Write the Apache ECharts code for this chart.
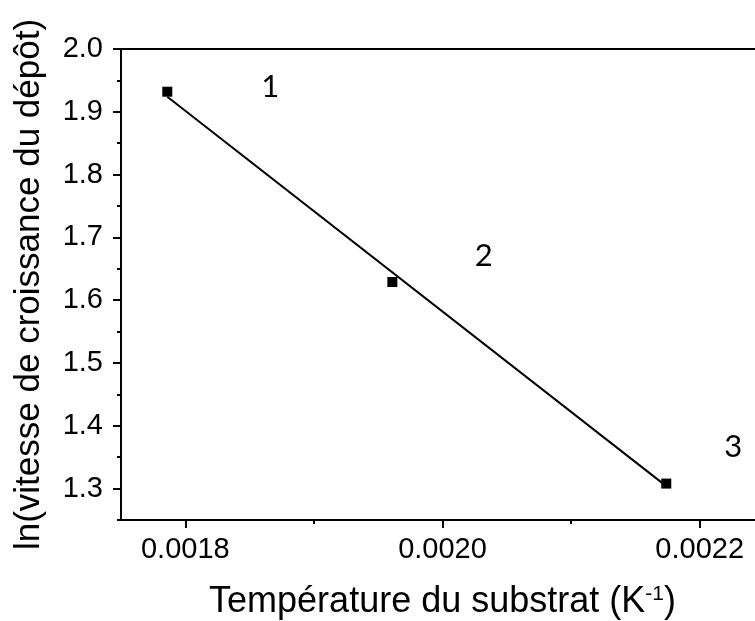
<!DOCTYPE html>
<html>
<head>
<meta charset="utf-8">
<script src="https://cdn.jsdelivr.net/npm/echarts@6/dist/echarts.min.js"></script>
<style>
html,body{margin:0;padding:0;background:#fff;}
#chartContainer{width:755px;height:621px;}
</style>
</head>
<body>
<div id="chartContainer"></div>
<script>
// points mesurés (1/T, ln v)
var tempInv = [0.001786, 0.001961, 0.002174];
var lnVitesse = [1.932, 1.629, 1.308];
// droite d'ajustement (extrémités)
var fitX = [0.001786, 0.002174];
var fitY = [1.924, 1.304];
// étiquettes des zones
var zoneX = [0.001866, 0.002032, 0.002226];
var zoneY = [1.940, 1.671, 1.367];
var zoneText = ['1', '2', '3'];
// graduations
var xTicks = [0.0018, 0.0020, 0.0022];
var xMinorTicks = [0.0019, 0.0021];
var yTicks = [1.3, 1.4, 1.5, 1.6, 1.7, 1.8, 1.9, 2.0];
var yMinorTicks = [1.25, 1.35, 1.45, 1.55, 1.65, 1.75, 1.85, 1.95];

var myChart, option;
var FONT = '"Liberation Sans", Arial, sans-serif';

function pairs(xs, ys){
	var out = [];
	for(var i = 0; i < xs.length; i++){
		out.push([xs[i], ys[i]]);
	}
	return out;
}

function buildOption(){
	var axisLine = {show:true, lineStyle:{color:'#000', width:2}};
	return {
		animation:false,
		backgroundColor:'#fff',
		grid:{left:121, top:49, bottom:101, right:-9, containLabel:false, outerBoundsMode:'none'},
		xAxis:[
			{
				type:'value', position:'bottom', min:0.00175, max:0.00225,
				axisLine:axisLine, splitLine:{show:false},
				axisTick:{show:true, inside:false, length:8, lineStyle:{color:'#000', width:2}, customValues:xTicks},
				axisLabel:{show:true, margin:15, color:'#000', fontSize:29, fontFamily:FONT, customValues:xTicks,
					formatter:function(v){ return v.toFixed(4); }},
				name:'Température du substrat (K{sup|-1})',
				nameLocation:'middle', nameGap:64,
				nameTextStyle:{color:'#000', fontSize:36, fontFamily:FONT,
					rich:{sup:{fontSize:21, fontFamily:FONT, color:'#000', verticalAlign:'top', padding:[0,0,16,0]}}}
			},
			{
				// graduations secondaires en bas
				type:'value', position:'bottom', min:0.00175, max:0.00225,
				axisLine:{show:false}, splitLine:{show:false}, axisLabel:{show:false},
				axisTick:{show:true, inside:false, length:4, lineStyle:{color:'#000', width:2}, customValues:xMinorTicks}
			},
			{
				// cadre du haut
				type:'value', position:'top', min:0.00175, max:0.00225,
				axisLine:axisLine, splitLine:{show:false}, axisLabel:{show:false}, axisTick:{show:false}
			}
		],
		yAxis:[
			{
				type:'value', position:'left', min:1.25, max:2.0,
				axisLine:axisLine, splitLine:{show:false},
				axisTick:{show:true, inside:false, length:8, lineStyle:{color:'#000', width:2}, customValues:yTicks},
				axisLabel:{show:true, margin:18, color:'#000', fontSize:29, fontFamily:FONT, customValues:yTicks,
					formatter:function(v){ return v.toFixed(1); }},
				name:'ln(vitesse de croissance du dépôt)',
				nameLocation:'middle', nameGap:74,
				nameTextStyle:{color:'#000', fontSize:35, fontFamily:FONT}
			},
			{
				type:'value', position:'left', min:1.25, max:2.0,
				axisLine:{show:false}, splitLine:{show:false}, axisLabel:{show:false},
				axisTick:{show:true, inside:false, length:4, lineStyle:{color:'#000', width:2}, customValues:yMinorTicks}
			}
		],
		series:[
			{
				type:'line', xAxisIndex:0, yAxisIndex:0,
				data:pairs(fitX, fitY), showSymbol:false, symbol:'none',
				lineStyle:{color:'#000', width:2, opacity:1}
			},
			{
				type:'scatter', xAxisIndex:0, yAxisIndex:0,
				data:pairs(tempInv, lnVitesse), symbol:'rect', symbolSize:10,
				itemStyle:{color:'#000', opacity:1}
			},
			{
				type:'scatter', xAxisIndex:0, yAxisIndex:0,
				data:pairs(zoneX, zoneY), symbolSize:0, silent:true,
				itemStyle:{opacity:1},
				label:{show:true, position:'inside', color:'#000', opacity:1, fontSize:31, fontFamily:'Lato, "Open Sans", sans-serif',
					formatter:function(p){ return zoneText[p.dataIndex]; }}
			}
		]
	};
}

function loadEcharts(){
	option = buildOption();
	myChart = echarts.init(document.getElementById('chartContainer'));
	myChart.setOption(option);
}

loadEcharts();
</script>
</body>
</html>
